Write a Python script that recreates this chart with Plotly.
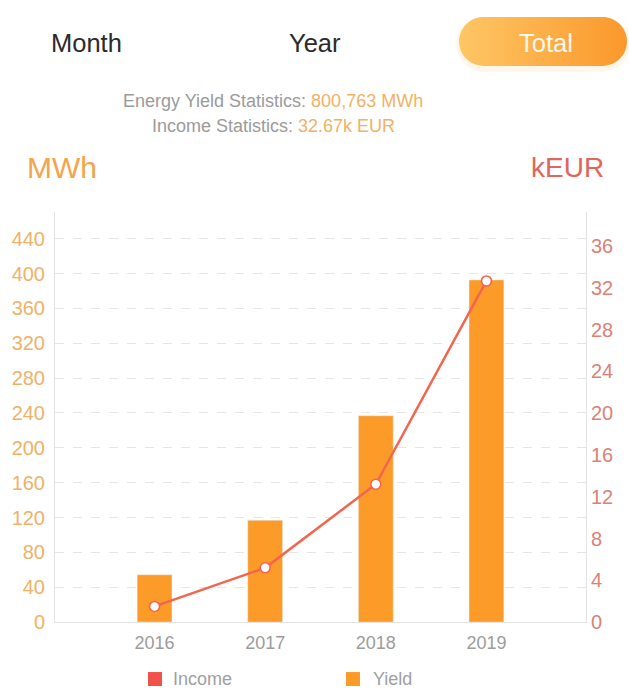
import numpy as np
import plotly.graph_objects as go

# ---- data ----
years = ["2016", "2017", "2018", "2019"]
yield_mwh = [54.3, 116.9, 236.8, 392.7]
income_keur = [1.5, 5.2, 13.2, 32.67]
left_ticks = [0, 40, 80, 120, 160, 200, 240, 280, 320, 360, 400, 440]
right_ticks = [0, 4, 8, 12, 16, 20, 24, 28, 32, 36]
tabs = ["Month", "Year", "Total"]

W, H_REF = 629, 692
H = 702                      # page viewport is a bit taller than the picture
def Y(y):                    # reference pixel row -> figure pixel row
    return y * H / H_REF

FONT = "Liberation Sans"
BAR = "#FD9B28"
LINE = "#F2654F"

fig = go.Figure()

fig.add_trace(go.Bar(
    x=years, y=yield_mwh, name="Yield", marker_color=BAR, width=0.315,
    xaxis="x", yaxis="y", showlegend=False,
))
fig.add_trace(go.Scatter(
    x=years, y=income_keur, name="Income", mode="lines+markers",
    line=dict(color=LINE, width=2.5),
    marker=dict(size=10, color="white", line=dict(color=LINE, width=1.6)),
    xaxis="x", yaxis="y2", showlegend=False,
))

# ---- pill for the selected tab (decoration in pixel space) ----
def pill(x0, x1, y0, y1, n=30):
    r = (y1 - y0) / 2
    cy = (y0 + y1) / 2
    t1 = np.linspace(-np.pi / 2, np.pi / 2, n)
    xr = x1 - r + r * np.cos(t1)
    yr = cy + r * np.sin(t1)
    t2 = np.linspace(np.pi / 2, 3 * np.pi / 2, n)
    xl = x0 + r + r * np.cos(t2)
    yl = cy + r * np.sin(t2)
    xs = np.concatenate([xr, xl, xr[:1]])
    ys = np.concatenate([yr, yl, yr[:1]])
    return xs, ys

sx, sy = pill(456, 630, Y(17), Y(72))
fig.add_trace(go.Scatter(x=sx, y=sy, fill="toself", mode="none",
                         fillcolor="rgba(253,170,70,0.10)",
                         xaxis="x3", yaxis="y3", hoverinfo="skip", showlegend=False))
px_, py_ = pill(459, 627, Y(17), Y(66))
fig.add_trace(go.Scatter(x=px_, y=py_, fill="toself", mode="none",
                         fillgradient=dict(type="horizontal",
                                           colorscale=[[0, "#FEC665"], [1, "#FB982B"]]),
                         xaxis="x3", yaxis="y3", hoverinfo="skip", showlegend=False))

ann = []
def txt(x, y, s, size, color, xanchor="center"):
    ann.append(dict(x=x, y=Y(y), xref="x3", yref="y3", text=s, showarrow=False,
                    xanchor=xanchor, yanchor="middle",
                    font=dict(family=FONT, size=size, color=color)))

txt(86, 43, tabs[0], 25.5, "#2B2B2B")
txt(315, 43, tabs[1], 25.5, "#2B2B2B")
txt(546, 43, tabs[2], 25.5, "#FFF6EA")
txt(273, 101, "Energy Yield Statistics: <span style='color:#F2B165'>800,763 MWh</span>", 18, "#9B9B9B")
txt(273, 126, "Income Statistics: <span style='color:#F2B165'>32.67k EUR</span>", 18, "#9B9B9B")
txt(25, 168, "MWh", 30, "#F5A34C", "left")
txt(606, 168, "kEUR", 28, "#E0675A", "right")
txt(171, 680, "Income", 18, "#A0A0A0", "left")
txt(371, 680, "Yield", 18, "#A0A0A0", "left")

shapes = [
    dict(type="rect", xref="x3", yref="y3", x0=148, x1=162, y0=Y(673), y1=Y(687),
         fillcolor="#F0524A", line=dict(width=0)),
    dict(type="rect", xref="x3", yref="y3", x0=346, x1=360, y0=Y(673), y1=Y(687),
         fillcolor=BAR, line=dict(width=0)),
]

AXC = "#E3E3E3"
fig.update_layout(
    width=W, height=H,
    margin=dict(l=0, r=0, t=0, b=0),
    paper_bgcolor="white", plot_bgcolor="rgba(0,0,0,0)",
    font=dict(family=FONT),
    annotations=ann, shapes=shapes,
    xaxis=dict(domain=[55 / W, 586 / W], type="category", range=[-0.9, 3.9],
               showline=True, linecolor=AXC, linewidth=1, showgrid=False,
               ticks="", tickfont=dict(size=18, color="#9C9C9C"),
               ticklabelstandoff=4, anchor="y"),
    yaxis=dict(domain=[(H - Y(623)) / H, (H - Y(212)) / H], range=[0, 471],
               tickvals=left_ticks, showline=True, linecolor=AXC, linewidth=1,
               showgrid=True, gridcolor="#E6E6E6", griddash="dash", gridwidth=1,
               zeroline=False, ticks="", tickfont=dict(size=20, color="#EFB268"),
               ticklabelstandoff=5, anchor="x"),
    yaxis2=dict(overlaying="y", side="right", range=[0, 39.3],
                tickvals=right_ticks, showline=True, linecolor=AXC, linewidth=1,
                showgrid=False, zeroline=False, ticks="",
                tickfont=dict(size=20, color="#DC8275"), ticklabelstandoff=0,
                anchor="x"),
    xaxis3=dict(domain=[0, 1], range=[0, W], visible=False, anchor="y3",
                fixedrange=True),
    yaxis3=dict(domain=[0, 1], range=[H, 0], visible=False, anchor="x3",
                fixedrange=True),
    bargap=0.5,
)

fig.write_html("out.html",
               config={"displayModeBar": False},
               post_script="document.body.style.margin='0';"
                           "document.body.style.overflow='hidden';")
